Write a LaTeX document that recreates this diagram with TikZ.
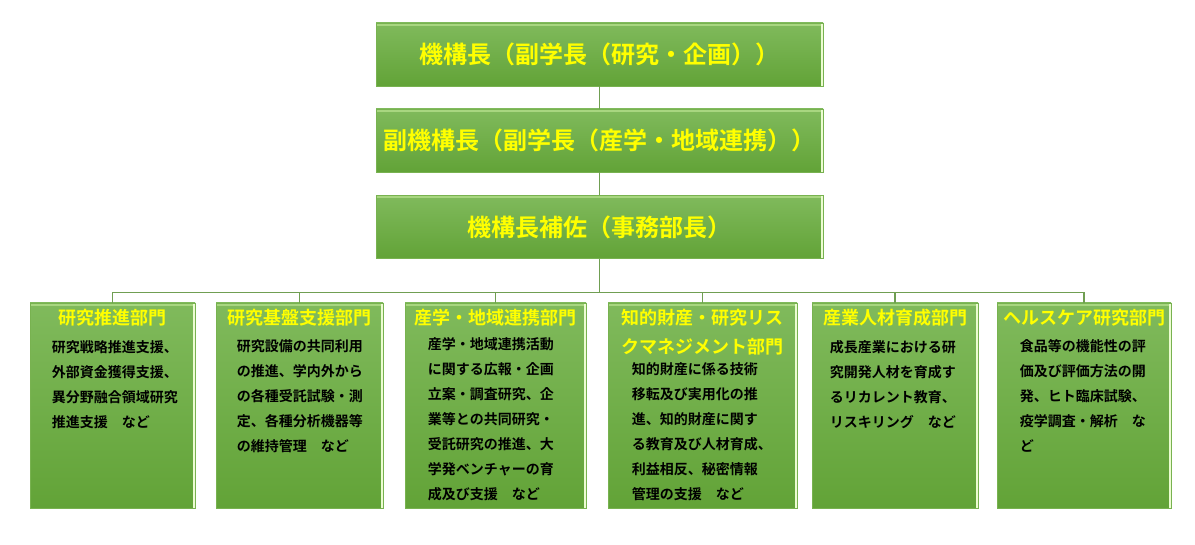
\documentclass[tikz,border=0pt]{standalone}
\usepackage{fontspec}
\setmainfont{Noto Sans CJK JP}[BoldFont={Noto Sans CJK JP Bold}]
\usetikzlibrary{positioning,calc}
\definecolor{boxtop}{RGB}{128,186,92}
\definecolor{boxbot}{RGB}{98,163,55}
\definecolor{boxedge}{RGB}{120,178,80}
\definecolor{hilite}{RGB}{168,214,128}
\definecolor{rimwhite}{RGB}{236,252,210}
\definecolor{wiregreen}{RGB}{112,158,82}
\definecolor{titleyellow}{RGB}{255,255,0}

\tikzset{
  gbox/.style={draw=boxedge, line width=0.6pt, top color=boxtop, bottom color=boxbot,
    inner sep=0pt,
    path picture={
      \fill[hilite] (path picture bounding box.north west) rectangle ([yshift=-3pt]path picture bounding box.north east);
      \fill[rimwhite] ([xshift=-2.5pt]path picture bounding box.north east) rectangle (path picture bounding box.south east);
    }},
  wire/.style={draw=wiregreen, line width=1.4pt},
  headtext/.style={text=titleyellow, font=\fontsize{24}{28}\selectfont\bfseries},
  depttitle/.style={text=titleyellow, font=\fontsize{18}{29}\selectfont\bfseries, align=center, inner sep=0pt},
  deptbody/.style={text=black, font=\fontsize{14}{25}\selectfont\bfseries, align=left, inner sep=0pt, anchor=north west}
}

\begin{document}
\begin{tikzpicture}[x=1pt,y=-1pt]
\useasboundingbox (0,0) rectangle (1195,545);

% Head boxes
\node[gbox, headtext, minimum width=447pt, minimum height=63pt] (chief) at (599.5,54.5) {機構長（副学長（研究・企画））};
\node[gbox, headtext, minimum width=447pt, minimum height=63pt] (vice) at (599.5,140.5) {副機構長（副学長（産学・地域連携））};
\node[gbox, headtext, minimum width=447pt, minimum height=63pt] (assist) at (599.5,227) {機構長補佐（事務部長）};

% Departments
\node[gbox, minimum width=165pt, minimum height=205pt] (d1) at (112.5,405.5) {};
\node[gbox, minimum width=167pt, minimum height=205pt] (d2) at (299.5,405.5) {};
\node[gbox, minimum width=181pt, minimum height=205pt] (d3) at (495.5,405.5) {};
\node[gbox, minimum width=189pt, minimum height=205pt] (d4) at (702.5,405.5) {};
\node[gbox, minimum width=166pt, minimum height=205pt] (d5) at (895,405.5) {};
\node[gbox, minimum width=174pt, minimum height=205pt] (d6) at (1084,405.5) {};

% Connectors
\coordinate[below=34pt of assist] (bus);
\draw[wire] (chief) -- (vice);
\draw[wire] (vice) -- (assist);
\draw[wire] (assist) -- (bus);
\foreach \d in {d1,d2,d3,d4,d5,d6}
  \draw[wire] (bus) -| (\d.north);

% Department titles
\node[depttitle, anchor=north] (t1) at ([yshift=-6pt]d1.north) {研究推進部門};
\node[depttitle, anchor=north] (t2) at ([yshift=-6pt]d2.north) {研究基盤支援部門};
\node[depttitle, anchor=north] (t3) at ([yshift=-6pt]d3.north) {産学・地域連携部門};
\node[depttitle, anchor=north] (t4) at ([yshift=-6pt]d4.north) {知的財産・研究リス\\クマネジメント部門};
\node[depttitle, anchor=north] (t5) at ([yshift=-6pt]d5.north) {産業人材育成部門};
\node[depttitle, anchor=north] (t6) at ([yshift=-6pt]d6.north) {ヘルスケア研究部門};

% Department texts
\node[deptbody] (b1) at ([xshift=22pt,yshift=-38pt]d1.north west) {研究戦略推進支援、\\外部資金獲得支援、\\異分野融合領域研究\\推進支援　など};
\node[deptbody] (b2) at ([xshift=21pt,yshift=-37pt]d2.north west) {研究設備の共同利用\\の推進、学内外から\\の各種受託試験・測\\定、各種分析機器等\\の維持管理　など};
\node[deptbody] (b3) at ([xshift=23pt,yshift=-35pt]d3.north west) {産学・地域連携活動\\に関する広報・企画\\立案・調査研究、企\\業等との共同研究・\\受託研究の推進、大\\学発ベンチャーの育\\成及び支援　など};
\node[deptbody] (b4) at ([xshift=24pt,yshift=-60pt]d4.north west) {知的財産に係る技術\\移転及び実用化の推\\進、知的財産に関す\\る教育及び人材育成、\\利益相反、秘密情報\\管理の支援　など};
\node[deptbody] (b5) at ([xshift=18pt,yshift=-38pt]d5.north west) {成長産業における研\\究開発人材を育成す\\るリカレント教育、\\リスキリング　など};
\node[deptbody] (b6) at ([xshift=23pt,yshift=-37pt]d6.north west) {食品等の機能性の評\\価及び評価方法の開\\発、ヒト臨床試験、\\疫学調査・解析　な\\ど};
\end{tikzpicture}
\end{document}
